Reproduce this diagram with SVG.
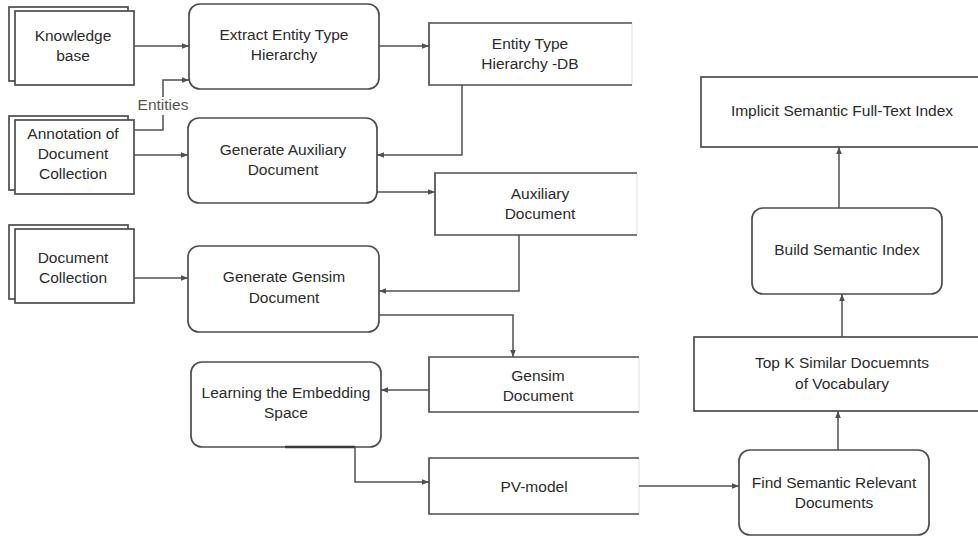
<svg xmlns="http://www.w3.org/2000/svg" width="978" height="537" viewBox="0 0 978 537">
  <defs>
    <style>
      .box { fill: #ffffff; stroke: #4d4d4d; stroke-width: 1.7; }
      .edge { fill: none; stroke: #4d4d4d; stroke-width: 1.7; }
      .soft { fill: none; stroke: #e4e4e4; stroke-width: 1.2; }
      .wire { fill: none; stroke: #505050; stroke-width: 1.5; marker-end: url(#arrow); }
      text { font-family: "Liberation Sans", Arial, sans-serif; font-size: 15.5px; fill: #2b2b2b; text-anchor: middle; }
      .tag { fill: #555555; }
    </style>
    <marker id="arrow" viewBox="0 0 10 10" refX="10" refY="5" markerWidth="7" markerHeight="7" markerUnits="userSpaceOnUse" orient="auto">
      <path d="M0,1 L10,5 L0,9 z" fill="#505050"/>
    </marker>
  </defs>

  <rect width="978" height="537" fill="#ffffff"/>

  <!-- input stacks -->
  <g id="knowledge-base">
    <rect class="box" x="9" y="7" width="119" height="74"/>
    <rect class="box" x="15" y="11" width="119" height="74"/>
    <text x="73" y="41">Knowledge</text>
    <text x="73" y="61">base</text>
  </g>

  <g id="annotation">
    <rect class="box" x="9" y="116" width="119" height="74"/>
    <rect class="box" x="15" y="120" width="119" height="74"/>
    <text x="73" y="139">Annotation of</text>
    <text x="73" y="159">Document</text>
    <text x="73" y="179">Collection</text>
  </g>

  <g id="document-collection">
    <rect class="box" x="9" y="225" width="119" height="74"/>
    <rect class="box" x="15" y="229" width="119" height="74"/>
    <text x="73" y="263">Document</text>
    <text x="73" y="283">Collection</text>
  </g>

  <!-- processes -->
  <g id="extract-hierarchy">
    <rect class="box" x="189" y="4" width="190" height="85" rx="11"/>
    <text x="284" y="40">Extract Entity Type</text>
    <text x="284" y="60">Hierarchy</text>
  </g>

  <g id="generate-auxiliary">
    <rect class="box" x="188" y="118" width="189" height="85" rx="11"/>
    <text x="283" y="155">Generate Auxiliary</text>
    <text x="283" y="175">Document</text>
  </g>

  <g id="generate-gensim">
    <rect class="box" x="188" y="246" width="191" height="86" rx="11"/>
    <text x="284" y="282">Generate Gensim</text>
    <text x="284" y="303">Document</text>
  </g>

  <g id="learning-embedding">
    <rect class="box" x="191" y="362" width="190" height="85" rx="11"/>
    <line x1="285" y1="447" x2="355" y2="447" stroke="#3a3a3a" stroke-width="2.4"/>
    <text x="286" y="398">Learning the Embedding</text>
    <text x="286" y="418">Space</text>
  </g>

  <!-- data stores: open on the right -->
  <g id="hierarchy-db">
    <rect x="429" y="23" width="203" height="62" fill="#ffffff"/>
    <path class="soft" d="M632,23 V85"/>
    <path class="edge" d="M632,23 H429 V85 H632"/>
    <text x="530" y="49">Entity Type</text>
    <text x="530" y="69">Hierarchy -DB</text>
  </g>

  <g id="auxiliary-document">
    <rect x="435" y="173" width="202" height="62" fill="#ffffff"/>
    <path class="soft" d="M637,173 V235"/>
    <path class="edge" d="M637,173 H435 V235 H637"/>
    <text x="540" y="199">Auxiliary</text>
    <text x="540" y="219">Document</text>
  </g>

  <g id="gensim-document">
    <rect x="429" y="357" width="210" height="55" fill="#ffffff"/>
    <path class="soft" d="M639,357 V412"/>
    <path class="edge" d="M639,357 H429 V412 H639"/>
    <text x="538" y="381">Gensim</text>
    <text x="538" y="401">Document</text>
  </g>

  <g id="pv-model">
    <rect x="429" y="458" width="210" height="56" fill="#ffffff"/>
    <path class="soft" d="M639,458 V514"/>
    <path class="edge" d="M639,458 H429 V514 H639"/>
    <text x="534" y="492">PV-model</text>
  </g>

  <!-- right column -->
  <g id="find-relevant">
    <rect class="box" x="739" y="450" width="190" height="85" rx="11"/>
    <text x="834" y="488">Find Semantic Relevant</text>
    <text x="834" y="508">Documents</text>
  </g>

  <g id="top-k">
    <rect class="box" x="694" y="337" width="290" height="74"/>
    <text x="842" y="368">Top K Similar Docuemnts</text>
    <text x="842" y="389">of Vocabulary</text>
  </g>

  <g id="build-index">
    <rect class="box" x="752" y="208" width="190" height="86" rx="11"/>
    <text x="847" y="255">Build Semantic Index</text>
  </g>

  <g id="full-text-index">
    <rect class="box" x="701" y="77" width="283" height="70"/>
    <text x="842" y="116">Implicit Semantic Full-Text Index</text>
  </g>

  <!-- connectors -->
  <g id="connectors">
    <path class="wire" d="M134,46 H189"/>
    <path class="wire" d="M134,130 H163 V80 H189"/>
    <rect x="137" y="97" width="52" height="18" fill="#ffffff"/>
    <text class="tag" x="163" y="110">Entities</text>
    <path class="wire" d="M134,155 H188"/>
    <path class="wire" d="M379,46 H429"/>
    <path class="wire" d="M462,85 V155 H377"/>
    <path class="wire" d="M377,192 H435"/>
    <path class="wire" d="M134,278 H188"/>
    <path class="wire" d="M519,235 V291 H379"/>
    <path class="wire" d="M379,315 H513 V357"/>
    <path class="wire" d="M429,390 H381"/>
    <path class="wire" d="M355,447 V482 H429"/>
    <path class="wire" d="M639,486 H739"/>
    <path class="wire" d="M838,450 V411"/>
    <path class="wire" d="M842,337 V294"/>
    <path class="wire" d="M839,208 V147"/>
  </g>
</svg>
